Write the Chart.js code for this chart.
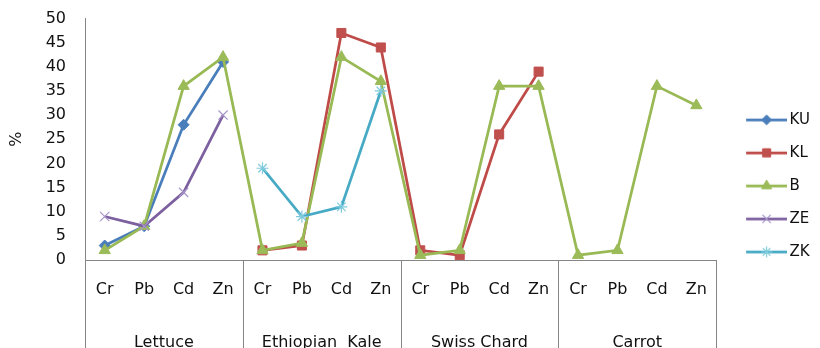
<!DOCTYPE html>
<html>
<head>
<meta charset="utf-8">
<script src="https://cdn.jsdelivr.net/npm/chart.js@4/dist/chart.umd.min.js"></script>
<style>
  html, body { margin: 0; padding: 0; background: #fff; overflow: hidden; }
  #wrap { width: 820px; height: 348px; position: relative; }
</style>
</head>
<body>
<div id="wrap"><canvas id="chart"></canvas></div>
<script>
// Metals measured in each crop, and the crops themselves (two-level category axis)
const metals = ['Cr', 'Pb', 'Cd', 'Zn'];
const crops = ['Lettuce', 'Ethiopian  Kale', 'Swiss Chard', 'Carrot'];

// Y axis range, in %
const yMin = 0;
const yMax = 50;
const yStep = 5;

// Series names
const seriesNames = ['KU', 'KL', 'B', 'ZE', 'ZK'];

// Values per category (Lettuce Cr..Zn, Ethiopian Kale Cr..Zn, Swiss Chard Cr..Zn, Carrot Cr..Zn)
const KU = [3, 7, 28, 41, null, null, null, null, null, null, null, null, null, null, null, null];
const KL = [null, null, null, null, 2, 3, 47, 44, 2, 1, 26, 39, null, null, null, null];
const B  = [2, 7, 36, 42, 2, 3.5, 42, 37, 1, 2, 36, 36, 1, 2, 36, 32];
const ZE = [9, 7, 14, 30, null, null, null, null, null, null, null, null, null, null, null, null];
const ZK = [null, null, null, null, 19, 9, 11, 35, null, null, null, null, null, null, null, null];

const seriesValues = [KU, KL, B, ZE, ZK];

// Flat category labels built from the two levels
const labels = [];
crops.forEach(() => metals.forEach(m => labels.push(m)));

// Look of each series
const styles = [
  { line: '#4A7EBB', marker: 'rectRot',  radius: 5.5, fill: '#4A7EBB', stroke: '#4A7EBB', bw: 1 },
  { line: '#BE4B48', marker: 'rect',     radius: 6.4, fill: '#C0504D', stroke: '#C0504D', bw: 1 },
  { line: '#98B954', marker: 'triangle', radius: 6.5, fill: '#9BBB59', stroke: '#9BBB59', bw: 1 },
  { line: '#7D60A0', marker: 'crossRot', radius: 6.5, fill: '#A896CA', stroke: '#A896CA', bw: 1.2 },
  { line: '#46AAC5', marker: 'star',     radius: 6,   fill: '#7FCBDD', stroke: '#7FCBDD', bw: 1.2 }
];

const FONT = "'DejaVu Sans', sans-serif";
const TEXT = '#111';
const AXIS_GREY = '#868686';

// Legend swatch: a short line with the series marker in its middle
const SW_W = 58, SW_H = 16, SW_X0 = 17, SW_X1 = 58;
function makeSwatch(st) {
  const cv = document.createElement('canvas');
  cv.width = SW_W; cv.height = SW_H;
  const c = cv.getContext('2d');
  c.strokeStyle = st.line;
  c.lineWidth = 2.75;
  c.beginPath();
  c.moveTo(SW_X0, SW_H / 2);
  c.lineTo(SW_X1, SW_H / 2);
  c.stroke();
  c.fillStyle = st.fill;
  c.strokeStyle = st.stroke;
  c.lineWidth = st.bw;
  Chart.helpers.drawPoint(c, { pointStyle: st.marker, radius: st.radius * 0.9, borderWidth: st.bw, rotation: 0 },
    (SW_X0 + SW_X1) / 2, SW_H / 2);
  return cv;
}
const swatches = styles.map(makeSwatch);

// Crop names below the metal labels, with separators between the crop groups
const groupAxis = {
  id: 'groupAxis',
  afterDraw(chart) {
    const xs = chart.scales.x;
    const ctx = chart.ctx;
    const n = metals.length;
    const half = (xs.getPixelForValue(1) - xs.getPixelForValue(0)) / 2;
    const top = chart.chartArea.bottom;
    const bottom = chart.height;
    ctx.save();
    ctx.strokeStyle = AXIS_GREY;
    ctx.lineWidth = 1;
    for (let g = 0; g <= crops.length; g++) {
      const px = Math.round(xs.getPixelForValue(g * n) - half) + 0.5;
      ctx.beginPath();
      ctx.moveTo(px, top);
      ctx.lineTo(px, bottom);
      ctx.stroke();
    }
    ctx.fillStyle = TEXT;
    ctx.font = '16px ' + FONT;
    ctx.textAlign = 'center';
    ctx.textBaseline = 'alphabetic';
    crops.forEach((name, g) => {
      const cx = (xs.getPixelForValue(g * n) + xs.getPixelForValue(g * n + n - 1)) / 2;
      ctx.fillText(name, cx, top + 87);
    });
    ctx.restore();
  }
};

const datasets = seriesNames.map((name, i) => ({
  label: name,
  data: seriesValues[i],
  borderColor: styles[i].line,
  borderWidth: 2.75,
  pointStyle: styles[i].marker,
  pointRadius: styles[i].radius,
  pointBackgroundColor: styles[i].fill,
  pointBorderColor: styles[i].stroke,
  pointBorderWidth: styles[i].bw,
  spanGaps: false,
  tension: 0,
  fill: false,
  order: seriesNames.length - i
}));

new Chart(document.getElementById('chart'), {
  type: 'line',
  data: { labels, datasets },
  plugins: [groupAxis],
  options: {
    responsive: true,
    maintainAspectRatio: false,
    animation: false,
    events: [],
    layout: { padding: { top: 18.5, left: 0, right: 0, bottom: 0 } },
    plugins: {
      tooltip: { enabled: false },
      legend: {
        position: 'right',
        align: 'center',
        title: { display: true, text: '', font: { size: 1 }, padding: { top: 4, bottom: 0 } },
        labels: {
          font: { family: FONT, size: 15 },
          color: TEXT,
          padding: 18,
          usePointStyle: true,
          pointStyleWidth: 48,
          generateLabels(chart) {
            return chart.data.datasets.map((ds, i) => ({
              text: ds.label,
              fontColor: TEXT,
              pointStyle: swatches[i],
              fillStyle: 'transparent',
              strokeStyle: 'transparent',
              lineWidth: 0,
              hidden: false,
              datasetIndex: i
            }));
          }
        }
      }
    },
    scales: {
      x: {
        type: 'category',
        offset: true,
        grid: { display: false, drawTicks: false },
        border: { display: true, color: AXIS_GREY, width: 1 },
        ticks: { font: { family: FONT, size: 16 }, color: TEXT, padding: 20, maxRotation: 0, autoSkip: false },
        afterFit(scale) { scale.height = 88; }
      },
      y: {
        min: yMin,
        max: yMax,
        grid: { display: false, drawTicks: false },
        border: { display: true, color: AXIS_GREY, width: 1 },
        ticks: { stepSize: yStep, font: { family: FONT, size: 16 }, color: TEXT, padding: 19 },
        title: { display: true, text: '%', font: { family: FONT, size: 16 }, color: TEXT, padding: { top: 7, bottom: 0 } },
        afterFit(scale) { scale.width = 85; scale.paddingTop = 0; scale.paddingBottom = 0; }
      }
    }
  }
});
</script>
</body>
</html>
